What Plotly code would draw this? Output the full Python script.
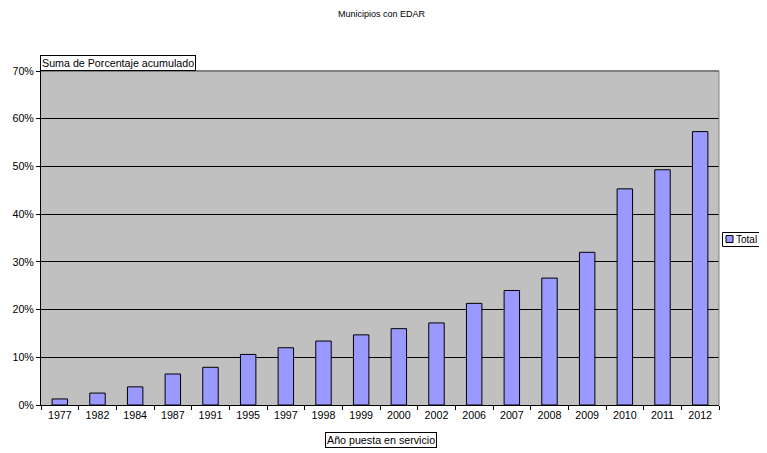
import plotly.graph_objects as go

years = ["1977", "1982", "1984", "1987", "1991", "1995", "1997", "1998", "1999",
         "2000", "2002", "2006", "2007", "2008", "2009", "2010", "2011", "2012"]
values = [0.0127, 0.025, 0.038, 0.065, 0.079, 0.106, 0.120, 0.134, 0.147,
          0.160, 0.172, 0.213, 0.240, 0.266, 0.320, 0.453, 0.493, 0.573]
y_ticks = [0, 0.1, 0.2, 0.3, 0.4, 0.5, 0.6, 0.7]
y_tick_text = ["0%", "10%", "20%", "30%", "40%", "50%", "60%", "70%"]
series_name = "Total"

FONT = "Liberation Sans, Arial, sans-serif"
BAR_COLOR = "#9999FF"
FS = 10.7

# page body has an 8px margin; lay out the figure so page positions match
OFF = 8
W, H = 767 - OFF, 453 - OFF
PLOT_L, PLOT_R, PLOT_T, PLOT_B = 41, 719, 71, 405   # page pixel positions
L = PLOT_L - OFF
T = PLOT_T - OFF
PW, PH = PLOT_R - PLOT_L, PLOT_B - PLOT_T
R = W - L - PW
B = H - T - PH


def px(x):
    return (x - PLOT_L) / PW


def py(y):
    return (PLOT_B - y) / PH


fig = go.Figure()
fig.add_trace(go.Bar(
    x=years, y=values, name=series_name,
    marker=dict(color=BAR_COLOR, line=dict(color="black", width=1)),
    showlegend=False,
))

fig.update_layout(
    width=W, height=H,
    margin=dict(l=L, r=R, t=T, b=B, autoexpand=False),
    paper_bgcolor="white",
    plot_bgcolor="#C0C0C0",
    bargap=0.59,
    font=dict(family=FONT, size=FS, color="black"),
    title=dict(text="Municipios con EDAR", xref="paper", x=px(381.5), xanchor="center",
               yref="container", y=1 - (14 - OFF) / H, yanchor="middle",
               font=dict(size=9)),
    showlegend=False,
    xaxis=dict(type="category", showgrid=False, showline=True, linecolor="black",
               linewidth=1, ticks="outside", tickson="boundaries", ticklen=4,
               tickcolor="black", tickfont=dict(size=FS)),
    yaxis=dict(range=[0, 0.7], tickvals=y_ticks, ticktext=y_tick_text,
               showgrid=True, gridcolor="black", gridwidth=1, showline=True,
               linecolor="black", linewidth=1, ticks="outside", ticklen=4,
               tickcolor="black", tickfont=dict(size=FS), zeroline=False),
    shapes=[
        dict(type="line", xref="paper", yref="paper", x0=0, x1=1, y0=1, y1=1,
             line=dict(color="#808080", width=2)),
        dict(type="line", xref="paper", yref="paper", x0=1, x1=1, y0=0, y1=1,
             line=dict(color="#808080", width=1)),
        # legend box
        dict(type="rect", xref="paper", yref="paper",
             x0=px(722.5), x1=px(767.5), y0=py(246.5), y1=py(232.5),
             line=dict(color="black", width=1), fillcolor="white", layer="above"),
        dict(type="rect", xref="paper", yref="paper",
             x0=px(726), x1=px(733), y0=py(242.5), y1=py(235.5),
             line=dict(color="black", width=1), fillcolor=BAR_COLOR, layer="above"),
    ],
    annotations=[
        dict(text="Suma de Porcentaje acumulado", xref="paper", yref="paper",
             x=px(40), y=1.0, xanchor="left", yanchor="bottom", showarrow=False,
             bordercolor="black", borderwidth=1, borderpad=1, bgcolor="white",
             font=dict(size=FS)),
        dict(text="Año puesta en servicio", xref="paper", yref="paper",
             x=px(381), y=py(432), xanchor="center", yanchor="top", showarrow=False,
             bordercolor="black", borderwidth=1, borderpad=1, bgcolor="white",
             font=dict(size=FS)),
        dict(text=series_name, xref="paper", yref="paper",
             x=px(734), y=py(239.5), xanchor="left", yanchor="middle", showarrow=False,
             font=dict(size=10)),
    ],
)

fig.write_html("out.html")
